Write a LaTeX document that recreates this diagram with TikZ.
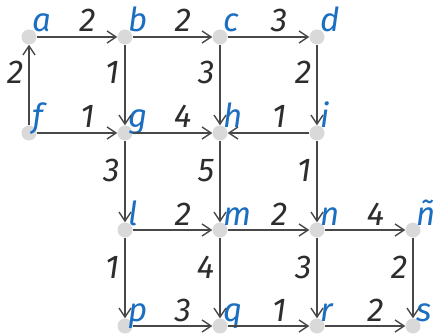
\documentclass[tikz,border=0pt]{standalone}
\usepackage{fontspec}
\setmainfont{Fira Sans}
\usetikzlibrary{arrows.meta}
\definecolor{nodeblue}{RGB}{28,110,192}
\definecolor{edgegray}{RGB}{72,72,72}
\definecolor{wgray}{RGB}{45,45,45}
\definecolor{dotgray}{RGB}{217,217,217}
\begin{document}
\begin{tikzpicture}[x=1pt,y=-1pt,
  dot/.style={circle,fill=dotgray,minimum size=15pt,inner sep=0pt},
  lab/.style={text=nodeblue,font=\fontsize{33}{34}\selectfont\itshape,anchor=base west,inner sep=0pt},
  arr/.style={draw=edgegray,line width=1.4pt,-{Straight Barb[length=9pt,width=12pt]}},
  wt/.style={font=\fontsize{33}{34}\selectfont\itshape,text=wgray,inner sep=0pt},
  hw/.style={wt,anchor=base,yshift=5pt},
  vw/.style={wt,anchor=base east,xshift=-5pt}]
\useasboundingbox (0,0) rectangle (443,336);
% nodes
\node[dot] (a) at (29,37) {};
\node[dot] (b) at (125,37) {};
\node[dot] (c) at (220,37) {};
\node[dot] (d) at (317,37) {};
\node[dot] (f) at (29,133) {};
\node[dot] (g) at (125,133) {};
\node[dot] (h) at (220,133) {};
\node[dot] (i) at (317,133) {};
\node[dot] (l) at (125,230) {};
\node[dot] (m) at (220,230) {};
\node[dot] (n) at (317,230) {};
\node[dot] (nt) at (413,230) {};
\node[dot] (p) at (125,326) {};
\node[dot] (q) at (220,326) {};
\node[dot] (r) at (317,326) {};
\node[dot] (s) at (413,326) {};
% node labels
\node[lab] (la) at ([shift={(3,-5)}]a.center) {a};
\node[lab] (lb) at ([shift={(3,-5)}]b.center) {b};
\node[lab] (lc) at ([shift={(3,-5)}]c.center) {c};
\node[lab] (ld) at ([shift={(3,-5)}]d.center) {d};
\node[lab] (lf) at ([shift={(3,-5)}]f.center) {f};
\node[lab] (lg) at ([shift={(3,-5)}]g.center) {g};
\node[lab] (lh) at ([shift={(3,-5)}]h.center) {h};
\node[lab] (li) at ([shift={(3,-5)}]i.center) {i};
\node[lab] (ll) at ([shift={(3,-5)}]l.center) {l};
\node[lab] (lm) at ([shift={(3,-5)}]m.center) {m};
\node[lab] (ln) at ([shift={(3,-5)}]n.center) {n};
\node[lab] (lnt) at ([shift={(3,-5)}]nt.center) {ñ};
\node[lab] (lp) at ([shift={(3,-5)}]p.center) {p};
\node[lab] (lq) at ([shift={(3,-5)}]q.center) {q};
\node[lab] (lr) at ([shift={(3,-5)}]r.center) {r};
\node[lab] (ls) at ([shift={(3,-5)}]s.center) {s};
% edges
\draw[arr] (a) -- node[hw,pos=0.63] (wab) {2} (b);
\draw[arr] (b) -- node[hw,pos=0.63] (wbc) {2} (c);
\draw[arr] (c) -- node[hw,pos=0.63] (wcd) {3} (d);
\draw[arr] (f) -- node[vw,pos=0.52] (wfa) {2} (a);
\draw[arr] (b) -- node[vw,pos=0.48] (wbg) {1} (g);
\draw[arr] (c) -- node[vw,pos=0.48] (wch) {3} (h);
\draw[arr] (d) -- node[vw,pos=0.48] (wdi) {2} (i);
\draw[arr] (f) -- node[hw,pos=0.63] (wfg) {1} (g);
\draw[arr] (g) -- node[hw,pos=0.63] (wgh) {4} (h);
\draw[arr] (i) -- node[hw,pos=0.37] (wih) {1} (h);
\draw[arr] (g) -- node[vw,pos=0.5] (wgl) {3} (l);
\draw[arr] (h) -- node[vw,pos=0.5] (whm) {5} (m);
\draw[arr] (i) -- node[vw,pos=0.5] (win) {1} (n);
\draw[arr] (l) -- node[hw,pos=0.63] (wlm) {2} (m);
\draw[arr] (m) -- node[hw,pos=0.63] (wmn) {2} (n);
\draw[arr] (n) -- node[hw,pos=0.63] (wnnt) {4} (nt);
\draw[arr] (l) -- node[vw,pos=0.5] (wlp) {1} (p);
\draw[arr] (m) -- node[vw,pos=0.5] (wmq) {4} (q);
\draw[arr] (n) -- node[vw,pos=0.5] (wnr) {3} (r);
\draw[arr] (nt) -- node[vw,pos=0.5] (wnts) {2} (s);
\draw[arr] (p) -- node[hw,pos=0.63] (wpq) {3} (q);
\draw[arr] (q) -- node[hw,pos=0.63] (wqr) {1} (r);
\draw[arr] (r) -- node[hw,pos=0.63] (wrs) {2} (s);
\end{tikzpicture}
\end{document}
